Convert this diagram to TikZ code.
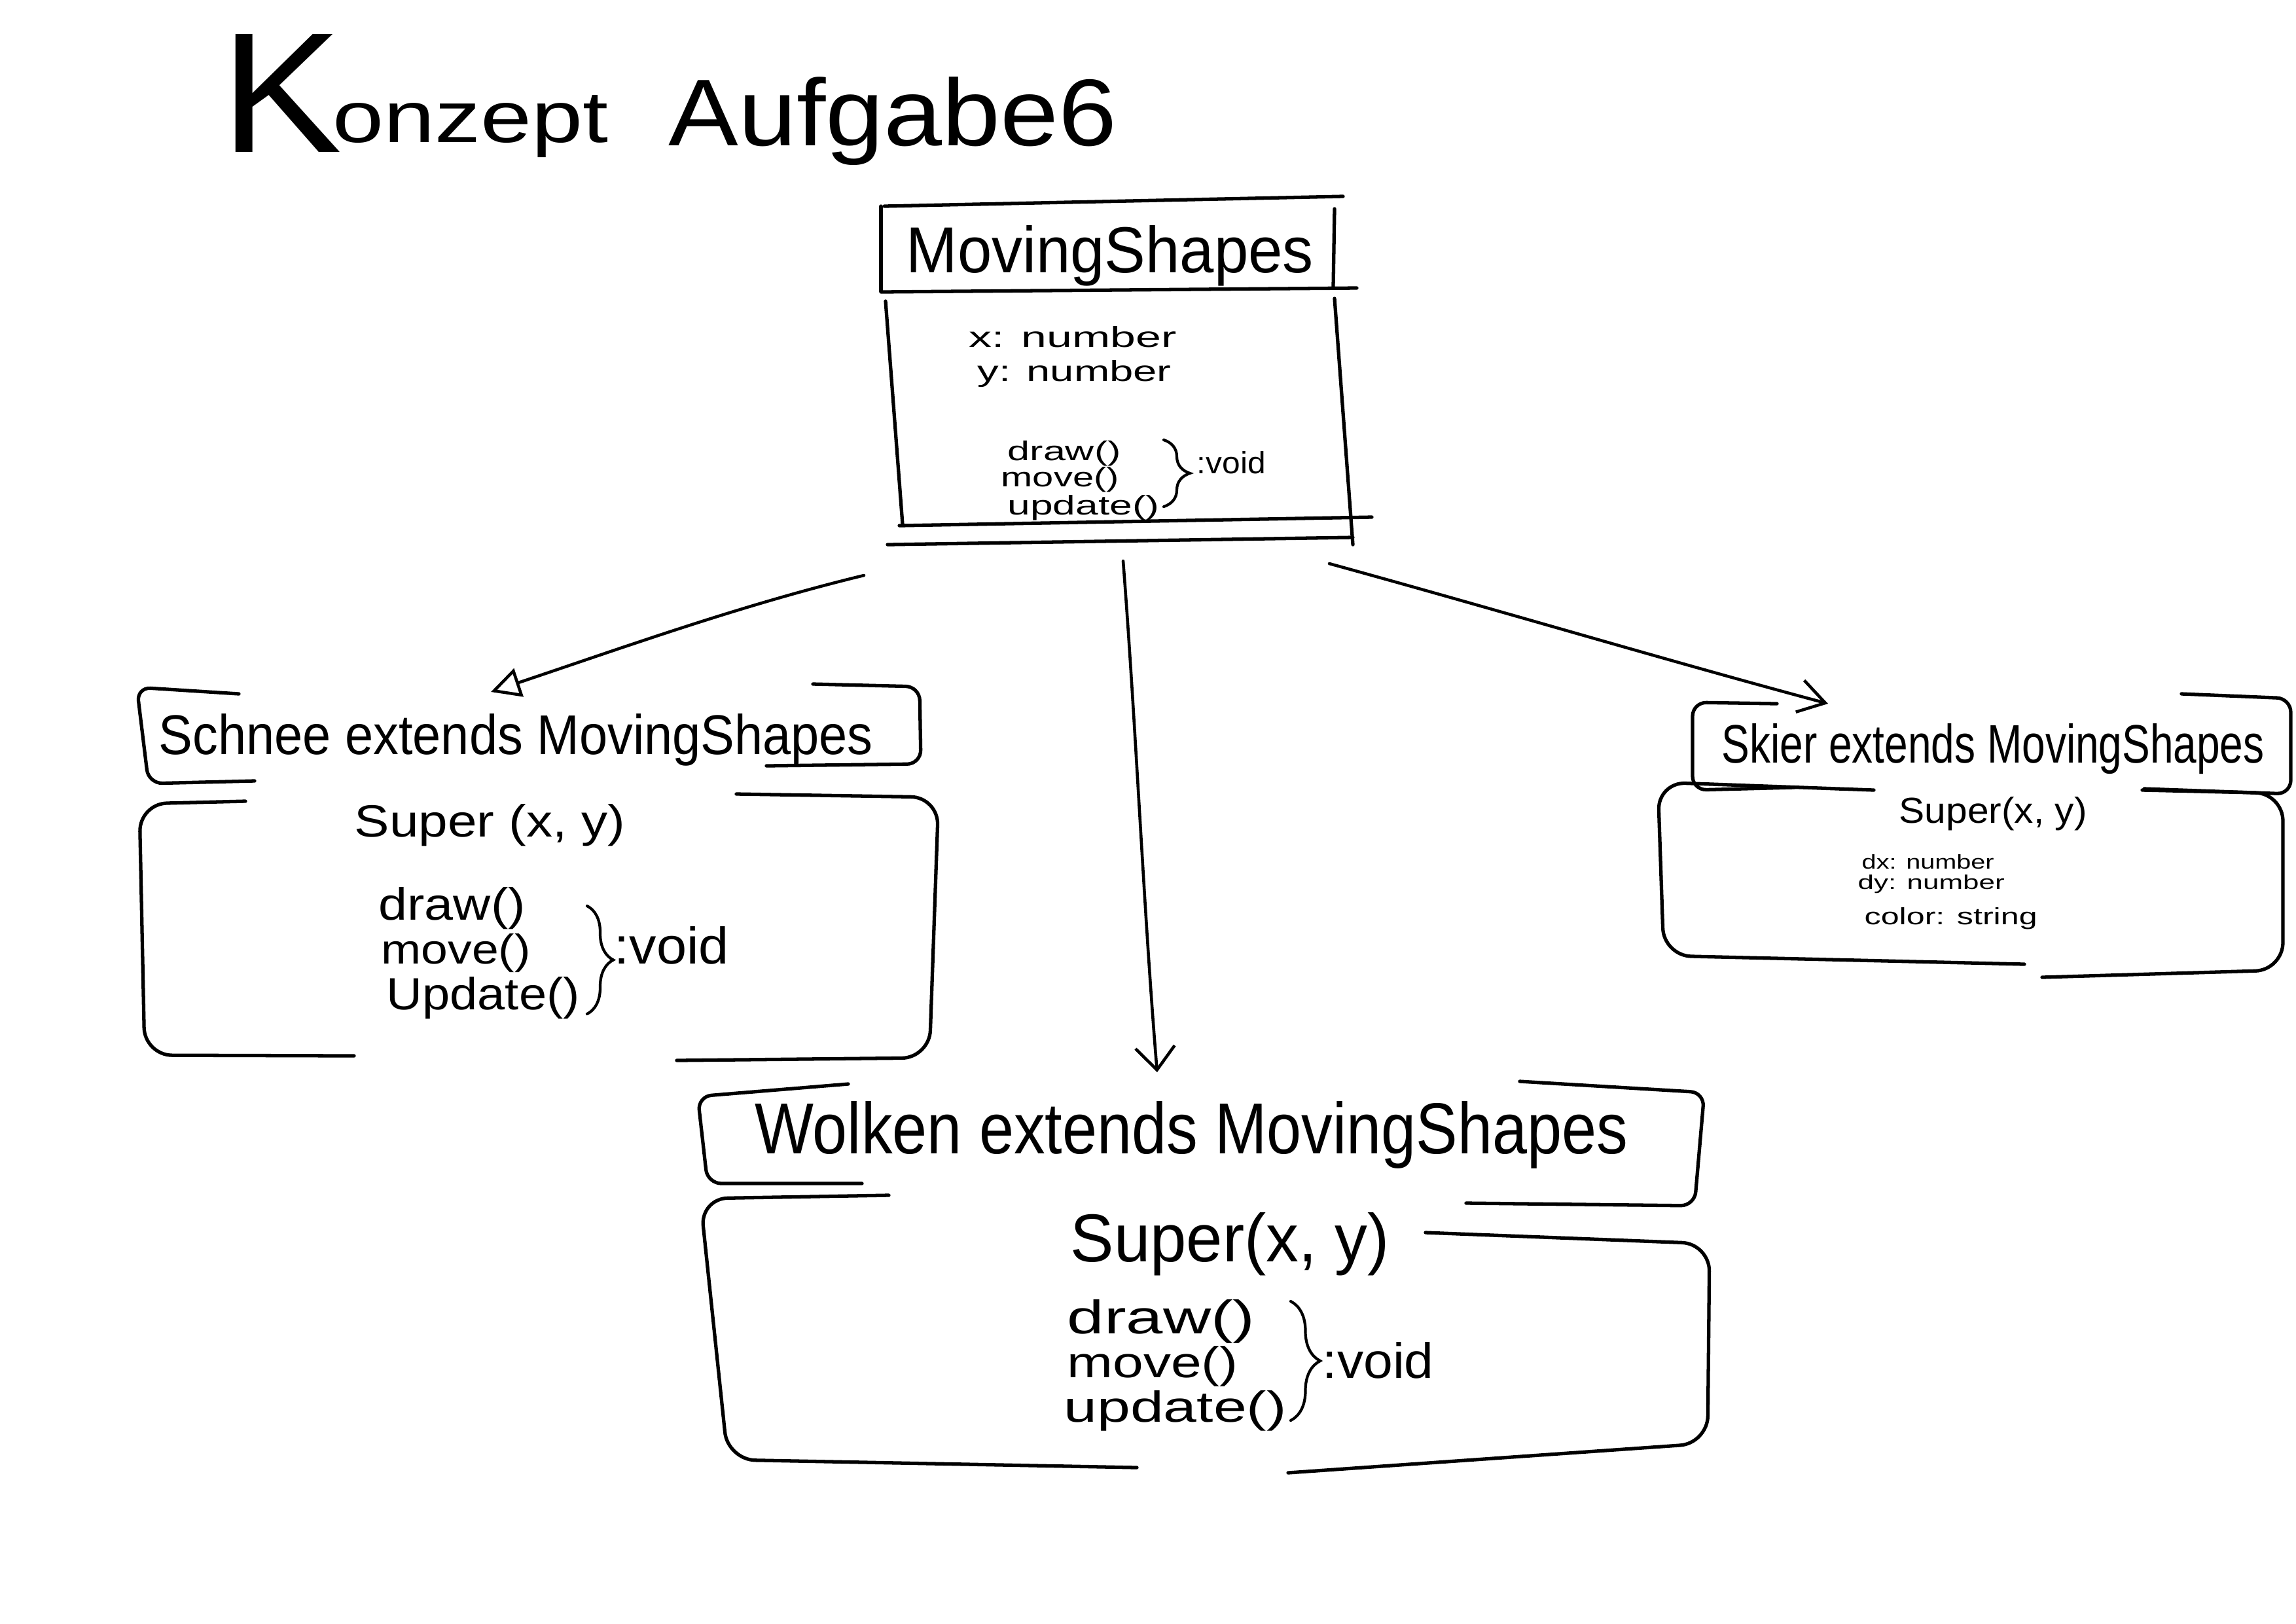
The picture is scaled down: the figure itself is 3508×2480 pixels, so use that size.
\documentclass[tikz,border=0pt]{standalone}
\usepackage{fontspec}
\setmainfont{Liberation Sans}
\usetikzlibrary{arrows.meta,decorations.pathreplacing}
\newlength\hwu
\setlength\hwu{0.01cm}
\newcommand\hw[3]{\resizebox{#1\hwu}{#2\hwu}{#3}}
\begin{document}
\begin{tikzpicture}[x=0.01cm,y=-0.01cm,
  pen/.style={line width=1.5pt, line cap=round, line join=round, rounded corners=6pt},
  body/.style={pen, rounded corners=12pt},
  conn/.style={line width=1.3pt, line cap=round, line join=round},
  txt/.style={inner sep=0pt, anchor=base west},
  curly/.style={line width=1.2pt, line cap=round, decorate, decoration={brace, amplitude=#1}}]
\useasboundingbox (0,0) rectangle (3508,2480);

% title
\node[txt] (title) at (337,232) {\hw{185}{180}{K}\hspace{-14\hwu}\raisebox{15\hwu}{\hw{421}{72}{onzept}}\hspace{92\hwu}\raisebox{10\hwu}{\hw{685}{105}{Aufgabe6}}};

% ---------- MovingShapes ----------
\draw[pen] (1351,315) -- (2052,300);
\draw[pen] (1346,315) -- (1346,445);
\draw[pen] (2039,319) -- (2037,438);
\draw[pen] (1346,446) -- (2073,440);
\draw[pen] (1353,460) -- (1379,801);
\draw[pen] (2039,456) -- (2067,832);
\draw[pen] (1374,803) -- (2096,790);
\draw[pen] (1356,832) -- (2067,821);
\node[txt] (msName) at (1384,416) {\hw{622}{72}{MovingShapes}};
\node[txt] (msX) at (1480,530) {\hw{317}{32}{x: number}};
\node[txt] (msY) at (1493,582) {\hw{296}{32}{y: number}};
\node[txt] (msDraw) at (1539,703) {\hw{173}{30}{draw()}};
\node[txt] (msMove) at (1529,743) {\hw{180}{30}{move()}};
\node[txt] (msUpd) at (1539,786) {\hw{232}{30}{update()}};
\draw[curly=0.4cm] (1778,672) -- (1778,774);
\node[txt] (msVoid) at (1828,723) {\hw{105}{34}{:void}};

% ---------- Schnee ----------
\draw[pen] (365,1060) -- (209,1050) -- (227,1197) -- (389,1193);
\draw[pen] (1242,1045) -- (1405,1049) -- (1407,1167) -- (1171,1170);
\draw[body] (375,1224) -- (213,1228) -- (221,1612) -- (541,1613);
\draw[body] (1125,1213) -- (1434,1218) -- (1420,1616) -- (1034,1620);
\node[txt] (schName) at (242,1152) {\hw{1091}{62}{Schnee extends MovingShapes}};
\node[txt] (schSuper) at (541,1278) {\hw{414}{50}{Super (x, y)}};
\node[txt] (schDraw) at (578,1405) {\hw{224}{50}{draw()}};
\node[txt] (schMove) at (582,1472) {\hw{228}{46}{move()}};
\node[txt] (schUpd) at (590,1542) {\hw{295}{50}{Update()}};
\draw[curly=0.4cm] (897,1384) -- (897,1549);
\node[txt] (schVoid) at (938,1472) {\hw{175}{57}{:void}};

% ---------- Wolken ----------
\draw[pen] (1296,1656) -- (1066,1675) -- (1081,1808) -- (1317,1808);
\draw[pen] (2322,1652) -- (2604,1669) -- (2589,1842) -- (2240,1838);
\draw[body] (1358,1826) -- (1070,1831) -- (1112,2230) -- (1737,2242);
\draw[body] (2178,1883) -- (2612,1900) -- (2609,2205) -- (1968,2250);
\node[txt] (wolName) at (1153,1762) {\hw{1333}{80}{Wolken extends MovingShapes}};
\node[txt] (wolSuper) at (1635,1927) {\hw{487}{75}{Super(x, y)}};
\node[txt] (wolDraw) at (1630,2037) {\hw{287}{52}{draw()}};
\node[txt] (wolMove) at (1630,2104) {\hw{261}{48}{move()}};
\node[txt] (wolUpd) at (1625,2172) {\hw{340}{48}{update()}};
\draw[curly=0.45cm] (1972,1988) -- (1972,2170);
\node[txt] (wolVoid) at (2020,2105) {\hw{170}{55}{:void}};

% ---------- Skier ----------
\draw[pen] (2715,1075) -- (2586,1073) -- (2586,1207) -- (2741,1203);
\draw[pen] (3333,1060) -- (3500,1067) -- (3500,1213) -- (3276,1205);
\draw[body] (2863,1207) -- (2533,1195) -- (2542,1460) -- (3093,1473);
\draw[body] (3273,1207) -- (3488,1212) -- (3488,1482) -- (3120,1493);
\node[txt] (skiName) at (2630,1165) {\hw{829}{60}{Skier extends MovingShapes}};
\node[txt] (skiSuper) at (2901,1257) {\hw{287}{40}{Super(x, y)}};
\node[txt] (skiDx) at (2844,1327) {\hw{202}{22}{dx: number}};
\node[txt] (skiDy) at (2838,1358) {\hw{224}{22}{dy: number}};
\node[txt] (skiColor) at (2848,1412) {\hw{264}{26}{color: string}};

% ---------- connectors ----------
\coordinate (msA) at (1320,879);
\coordinate (schTip) at (750,1057);
\coordinate (msB) at (1716,857);
\coordinate (wolTip) at (1768,1638);
\coordinate (msC) at (2031,861);
\coordinate (skiTip) at (2793,1075);
\draw[conn, -{Triangle[open, length=0.45cm, width=0.45cm]}] (msA) .. controls (1130,925) and (950,990) .. (schTip);
\draw[conn, -{Straight Barb[length=0.35cm, width=0.6cm]}] (msB) .. controls (1735,1100) and (1748,1400) .. (wolTip);
\draw[conn, -{Straight Barb[length=0.4cm, width=0.5cm]}] (msC) .. controls (2300,935) and (2550,1010) .. (skiTip);
\end{tikzpicture}
\end{document}
